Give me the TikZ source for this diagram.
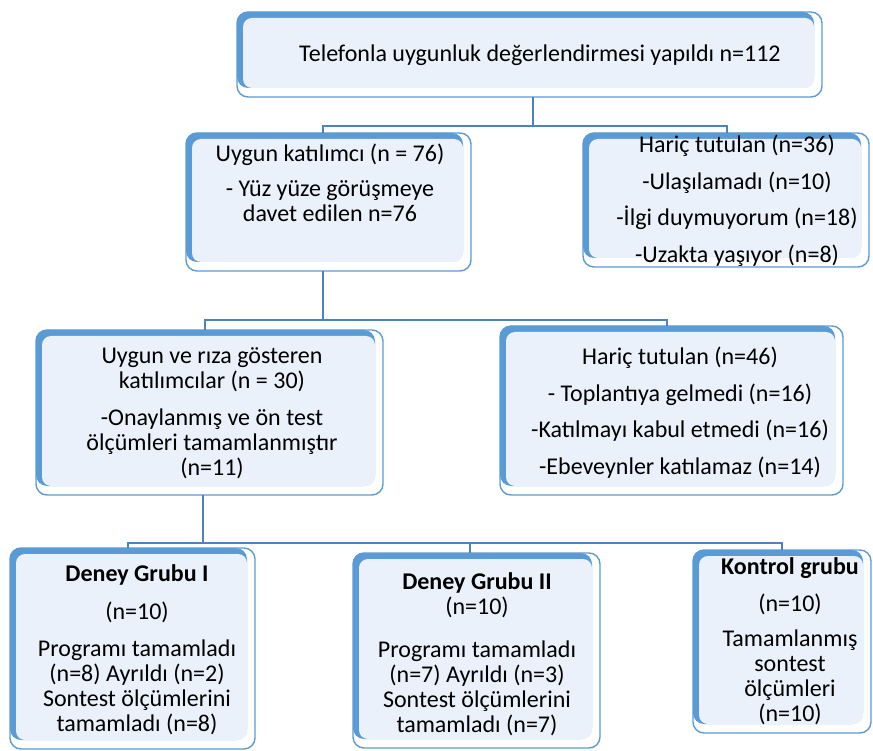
\documentclass[tikz,border=0pt]{standalone}
\usepackage{fontspec}
\setmainfont{Carlito}
\usetikzlibrary{backgrounds}
\definecolor{boxblue}{HTML}{5B9BD5}
\definecolor{boxfill}{HTML}{EAF1FA}
\definecolor{connblue}{HTML}{4F81BD}
\tikzset{
  boxnode/.style={inner sep=0pt, outer sep=0pt, draw=none, rectangle},
  txt/.style={inner sep=0pt, align=center, anchor=north, font=\fontsize{24}{25}\selectfont, text=black},
  conn/.style={draw=connblue, line width=1.6pt},
  boxline/.style={draw=boxblue, line width=1.4pt, fill=white, rounded corners=11pt}
}
\begin{document}
\begin{tikzpicture}[x=1pt,y=-1pt]
\useasboundingbox (0,0) rectangle (873,751);
% boxes
\node[boxnode, minimum width=585pt, minimum height=85pt] (b1) at (529.5,54.5) {};
\node[boxnode, minimum width=285pt, minimum height=138pt] (b2) at (328.5,202) {};
\node[boxnode, minimum width=286pt, minimum height=134pt] (b3) at (726,200) {};
\node[boxnode, minimum width=347pt, minimum height=165pt] (b4) at (209.5,412.5) {};
\node[boxnode, minimum width=343pt, minimum height=169pt] (b5) at (671.5,410.5) {};
\node[boxnode, minimum width=245pt, minimum height=201pt] (b6) at (132.5,648.5) {};
\node[boxnode, minimum width=247pt, minimum height=195pt] (b7) at (476.5,650.5) {};
\node[boxnode, minimum width=178pt, minimum height=183pt] (b8) at (782,641.5) {};
\begin{pgfonlayer}{background}
\foreach \n in {b1,b2,b3,b4,b5,b6,b7,b8} {
  \draw[boxline] (\n.north west) rectangle (\n.south east);
  \fill[boxblue, rounded corners=11pt] (\n.north west) rectangle ([xshift=-8pt,yshift=9pt]\n.south east);
  \fill[boxfill, rounded corners=9pt] ([xshift=6pt,yshift=-6pt]\n.north west) rectangle ([xshift=-8pt,yshift=9pt]\n.south east);
}
\end{pgfonlayer}
% texts
\node[txt] (t1) at (540,45) {Telefonla uygunluk değerlendirmesi yapıldı n=112};
\node[txt] (t2) at (330,144) {Uygun katılımcı (n = 76)\\[10pt]- Yüz yüze görüşmeye\\davet edilen n=76};
\node[txt] (t3) at (737,135) {Hariç tutulan (n=36)\\[12pt]-Ulaşılamadı (n=10)\\[11pt]-İlgi duymuyorum (n=18)\\[12pt]-Uzakta yaşıyor (n=8)};
\node[txt] (t4) at (212,347) {Uygun ve rıza gösteren\\katılımcılar (n = 30)\\[12pt]-Onaylanmış ve ön test\\ölçümleri tamamlanmıştır\\(n=11)};
\node[txt] (t5) at (680,347) {Hariç tutulan (n=46)\\[12pt]- Toplantıya gelmedi (n=16)\\[11pt]-Katılmayı kabul etmedi (n=16)\\[12pt]-Ebeveynler katılamaz (n=14)};
\node[txt] (t6) at (137,564) {\textbf{Deney Grubu I}\\[13pt](n=10)\\[12pt]Programı tamamladı\\(n=8) Ayrıldı (n=2)\\Sontest ölçümlerini\\tamamladı (n=8)};
\node[txt] (t7) at (477,572) {\textbf{Deney Grubu II}\\(n=10)\\[18pt]Programı tamamladı\\(n=7) Ayrıldı (n=3)\\Sontest ölçümlerini\\tamamladı (n=7)};
\node[txt] (t8) at (790,557) {\textbf{Kontrol grubu}\\[12pt](n=10)\\[10pt]Tamamlanmış\\sontest\\ölçümleri\\(n=10)};
% connectors
\coordinate (j1) at (533,126);
\coordinate (j2) at (323,320);
\coordinate (j3) at (203,543);
\draw[conn] (533,97) -- (j1);
\draw[conn] (j1) -| (323,133);
\draw[conn] (j1) -| (727,133);
\draw[conn] (323,271) -- (j2);
\draw[conn] (j2) -| (205,330);
\draw[conn] (j2) -| (667,326);
\draw[conn] (203,495) -- (j3);
\draw[conn] (j3) -| (128,548);
\draw[conn] (j3) -| (470,553);
\draw[conn] (j3) -| (782,550);
\end{tikzpicture}
\end{document}
